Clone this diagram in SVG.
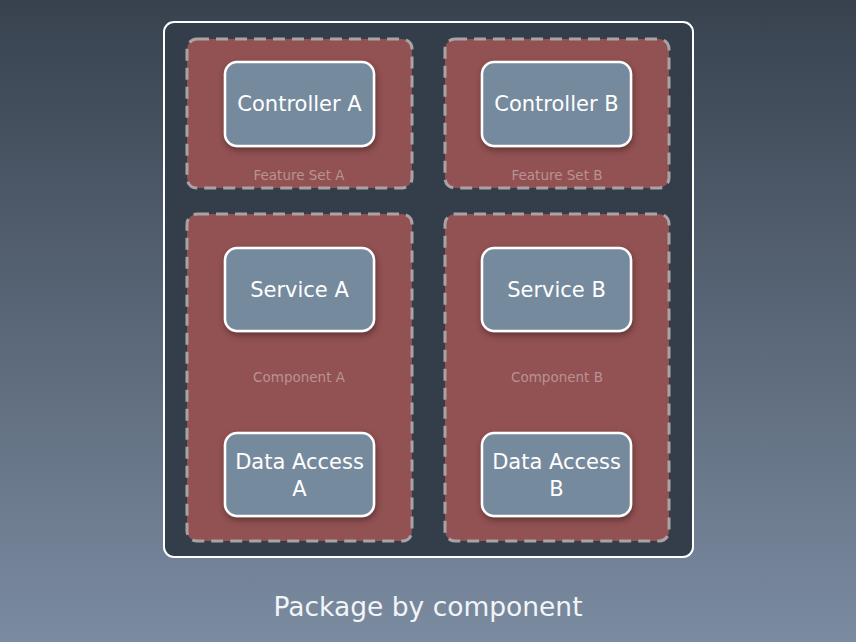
<svg xmlns="http://www.w3.org/2000/svg" width="856" height="642" viewBox="0 0 856 642">
  <defs>
    <linearGradient id="bg" x1="0" y1="0" x2="0" y2="1">
      <stop offset="0" stop-color="#38424f"/>
      <stop offset="1" stop-color="#7b8ba0"/>
    </linearGradient>
    <filter id="shadow" x="-20%" y="-20%" width="140%" height="150%">
      <feDropShadow dx="1" dy="3" stdDeviation="3" flood-color="#000" flood-opacity="0.35"/>
    </filter>
  </defs>
  <style>
    .frame { fill: #333e4a; stroke: #ffffff; stroke-width: 2; }
    .group { fill: #925152; stroke: #a9a3a5; stroke-width: 3; stroke-dasharray: 12 7; }
    .group-label { font-family: "DejaVu Sans", "Liberation Sans", sans-serif; font-size: 13.5px; fill: #b99393; text-anchor: middle; }
    .node rect { fill: #768a9e; stroke: #ffffff; stroke-width: 2.5; filter: url(#shadow); }
    .node text { font-family: "DejaVu Sans", "Liberation Sans", sans-serif; font-size: 21px; fill: #ffffff; text-anchor: middle; }
    .title { font-family: "DejaVu Sans", "Liberation Sans", sans-serif; font-size: 26.5px; fill: #f2f5f8; text-anchor: middle; }
  </style>

  <rect width="856" height="642" fill="url(#bg)"/>

  <!-- outer container -->
  <rect class="frame" x="164" y="22" width="529" height="535" rx="10"/>

  <!-- groups -->
  <g id="feature-set-a">
    <rect class="group" x="187" y="39" width="225" height="149" rx="10"/>
    <text class="group-label" x="299" y="180">Feature Set A</text>
  </g>
  <g id="feature-set-b">
    <rect class="group" x="445" y="39" width="224" height="149" rx="10"/>
    <text class="group-label" x="557" y="180">Feature Set B</text>
  </g>
  <g id="component-a">
    <rect class="group" x="187" y="214" width="225" height="327" rx="10"/>
    <text class="group-label" x="299" y="382">Component A</text>
  </g>
  <g id="component-b">
    <rect class="group" x="445" y="214" width="224" height="327" rx="10"/>
    <text class="group-label" x="557" y="382">Component B</text>
  </g>

  <!-- nodes -->
  <g id="controller-a" class="node">
    <rect x="225" y="62" width="149" height="84" rx="12"/>
    <text x="299.5" y="111">Controller A</text>
  </g>
  <g id="controller-b" class="node">
    <rect x="482" y="62" width="149" height="84" rx="12"/>
    <text x="556.5" y="111">Controller B</text>
  </g>
  <g id="service-a" class="node">
    <rect x="225" y="248" width="149" height="83" rx="12"/>
    <text x="299.5" y="297">Service A</text>
  </g>
  <g id="service-b" class="node">
    <rect x="482" y="248" width="149" height="83" rx="12"/>
    <text x="556.5" y="297">Service B</text>
  </g>
  <g id="data-access-a" class="node">
    <rect x="225" y="433" width="149" height="83" rx="12"/>
    <text x="299.5" y="469">Data Access</text>
    <text x="299.5" y="496">A</text>
  </g>
  <g id="data-access-b" class="node">
    <rect x="482" y="433" width="149" height="83" rx="12"/>
    <text x="556.5" y="469">Data Access</text>
    <text x="556.5" y="496">B</text>
  </g>

  <g id="connectors"/>

  <text class="title" x="428" y="616">Package by component</text>
</svg>
